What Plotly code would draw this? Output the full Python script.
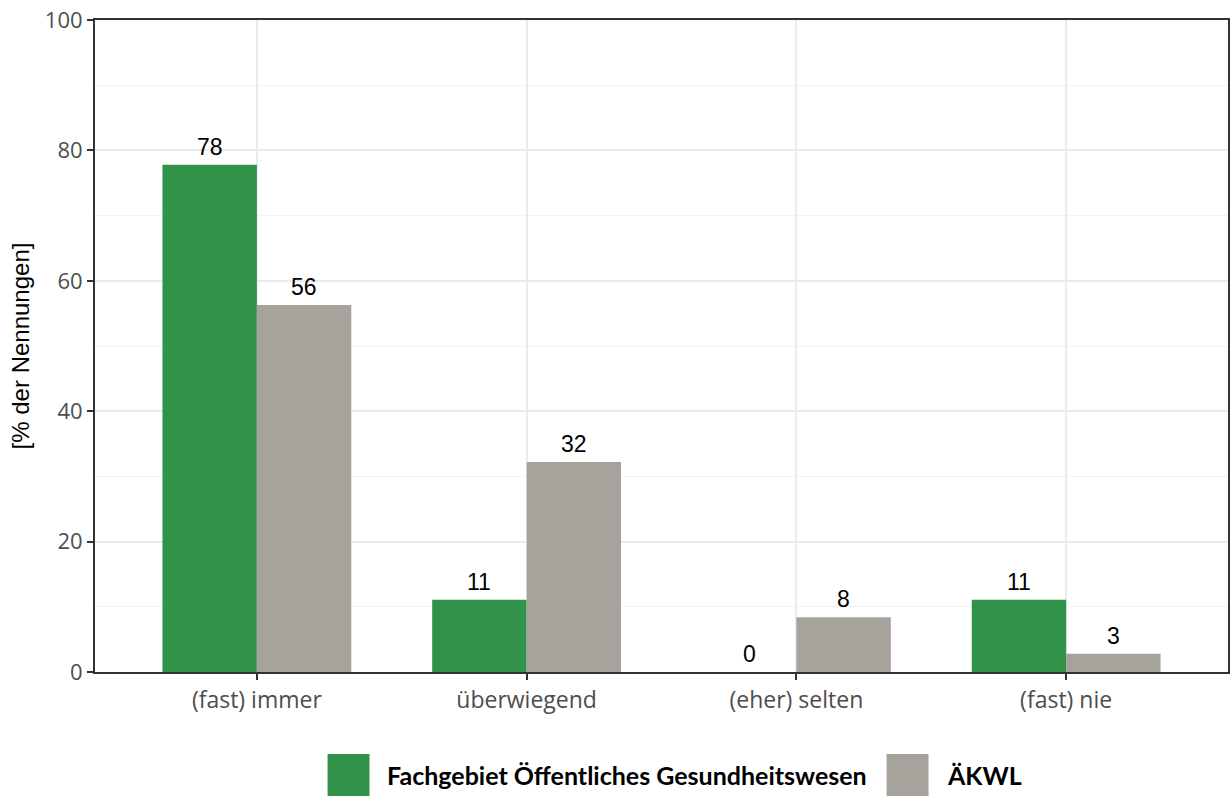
import plotly.graph_objects as go
import numpy as np

categories = ["(fast) immer", "überwiegend", "(eher) selten", "(fast) nie"]
fachgebiet = [77.8, 11.1, 0.0, 11.1]
aekwl = [56.3, 32.2, 8.4, 2.8]
series_names = ["Fachgebiet Öffentliches Gesundheitswesen", "ÄKWL"]
colors = ["#31924A", "#A6A39C"]
y_ticks = [0, 20, 40, 60, 80, 100]

x = np.arange(len(categories))
bw = 0.35

fig = go.Figure()
for vals, name, col, sign in [(fachgebiet, series_names[0], colors[0], -1),
                              (aekwl, series_names[1], colors[1], 1)]:
    fig.add_trace(go.Bar(x=x + sign * bw / 2, y=vals, width=bw, name=name,
                         marker=dict(color=col, line=dict(width=0)),
                         showlegend=False))
    for xi, v in zip(x + sign * bw / 2, vals):
        fig.add_annotation(x=xi, y=v, text=f"{v:.0f}", showarrow=False,
                           yanchor="bottom", yshift=3,
                           font=dict(family="Liberation Sans, Arial", size=23, color="black"))

# manual legend (large swatches)
legend_items = [(series_names[0], colors[0], 328), (series_names[1], colors[1], 888)]
L, R, T, B = 95, 1, 20, 127
W, H = 1231 - L - R, 799 - T - B
for name, col, px in legend_items:
    x0 = (px - L) / W
    x1 = (px + 42 - L) / W
    y0 = (672 - 796) / H
    y1 = (672 - 754) / H
    fig.add_shape(type="rect", xref="paper", yref="paper", x0=x0, x1=x1, y0=y0, y1=y1,
                  fillcolor=col, line=dict(width=0))
    fig.add_annotation(xref="paper", yref="paper", x=(px + 58 - L) / W, y=(672 - 775) / H,
                       text=f"<b>{name}</b>", showarrow=False, xanchor="left", yanchor="middle",
                       font=dict(family="Lato", size=25, color="black"))

fig.update_layout(
    width=1231, height=799,
    margin=dict(l=L, r=R, t=T, b=B),
    paper_bgcolor="white", plot_bgcolor="white",
    barmode="overlay",
    showlegend=False,
)
fig.update_xaxes(
    range=[-0.6, 3.6], tickvals=list(x), ticktext=categories,
    showgrid=True, gridcolor="#EBEBEB", gridwidth=2,
    showline=True, linecolor="#333333", linewidth=2, mirror=True,
    ticks="outside", ticklen=6, tickcolor="#333333", tickwidth=2,
    tickfont=dict(family="Open Sans", size=23, color="#4D4D4D"),
    zeroline=False,
)
fig.update_yaxes(
    range=[0, 100], tickvals=y_ticks,
    showgrid=True, gridcolor="#EBEBEB", gridwidth=2,
    minor=dict(dtick=10, showgrid=True, gridcolor="#F2F2F2", gridwidth=1),
    showline=True, linecolor="#333333", linewidth=2, mirror=True,
    ticks="outside", ticklen=6, tickcolor="#333333", tickwidth=2,
    tickfont=dict(family="Open Sans", size=22, color="#4D4D4D"),
    title=dict(text="[% der Nennungen]", standoff=8,
               font=dict(family="Liberation Sans, Arial", size=24, color="black")),
    zeroline=False,
)

fig.write_html("out.html", post_script="document.body.style.margin='0';",
               config={"displayModeBar": False})
